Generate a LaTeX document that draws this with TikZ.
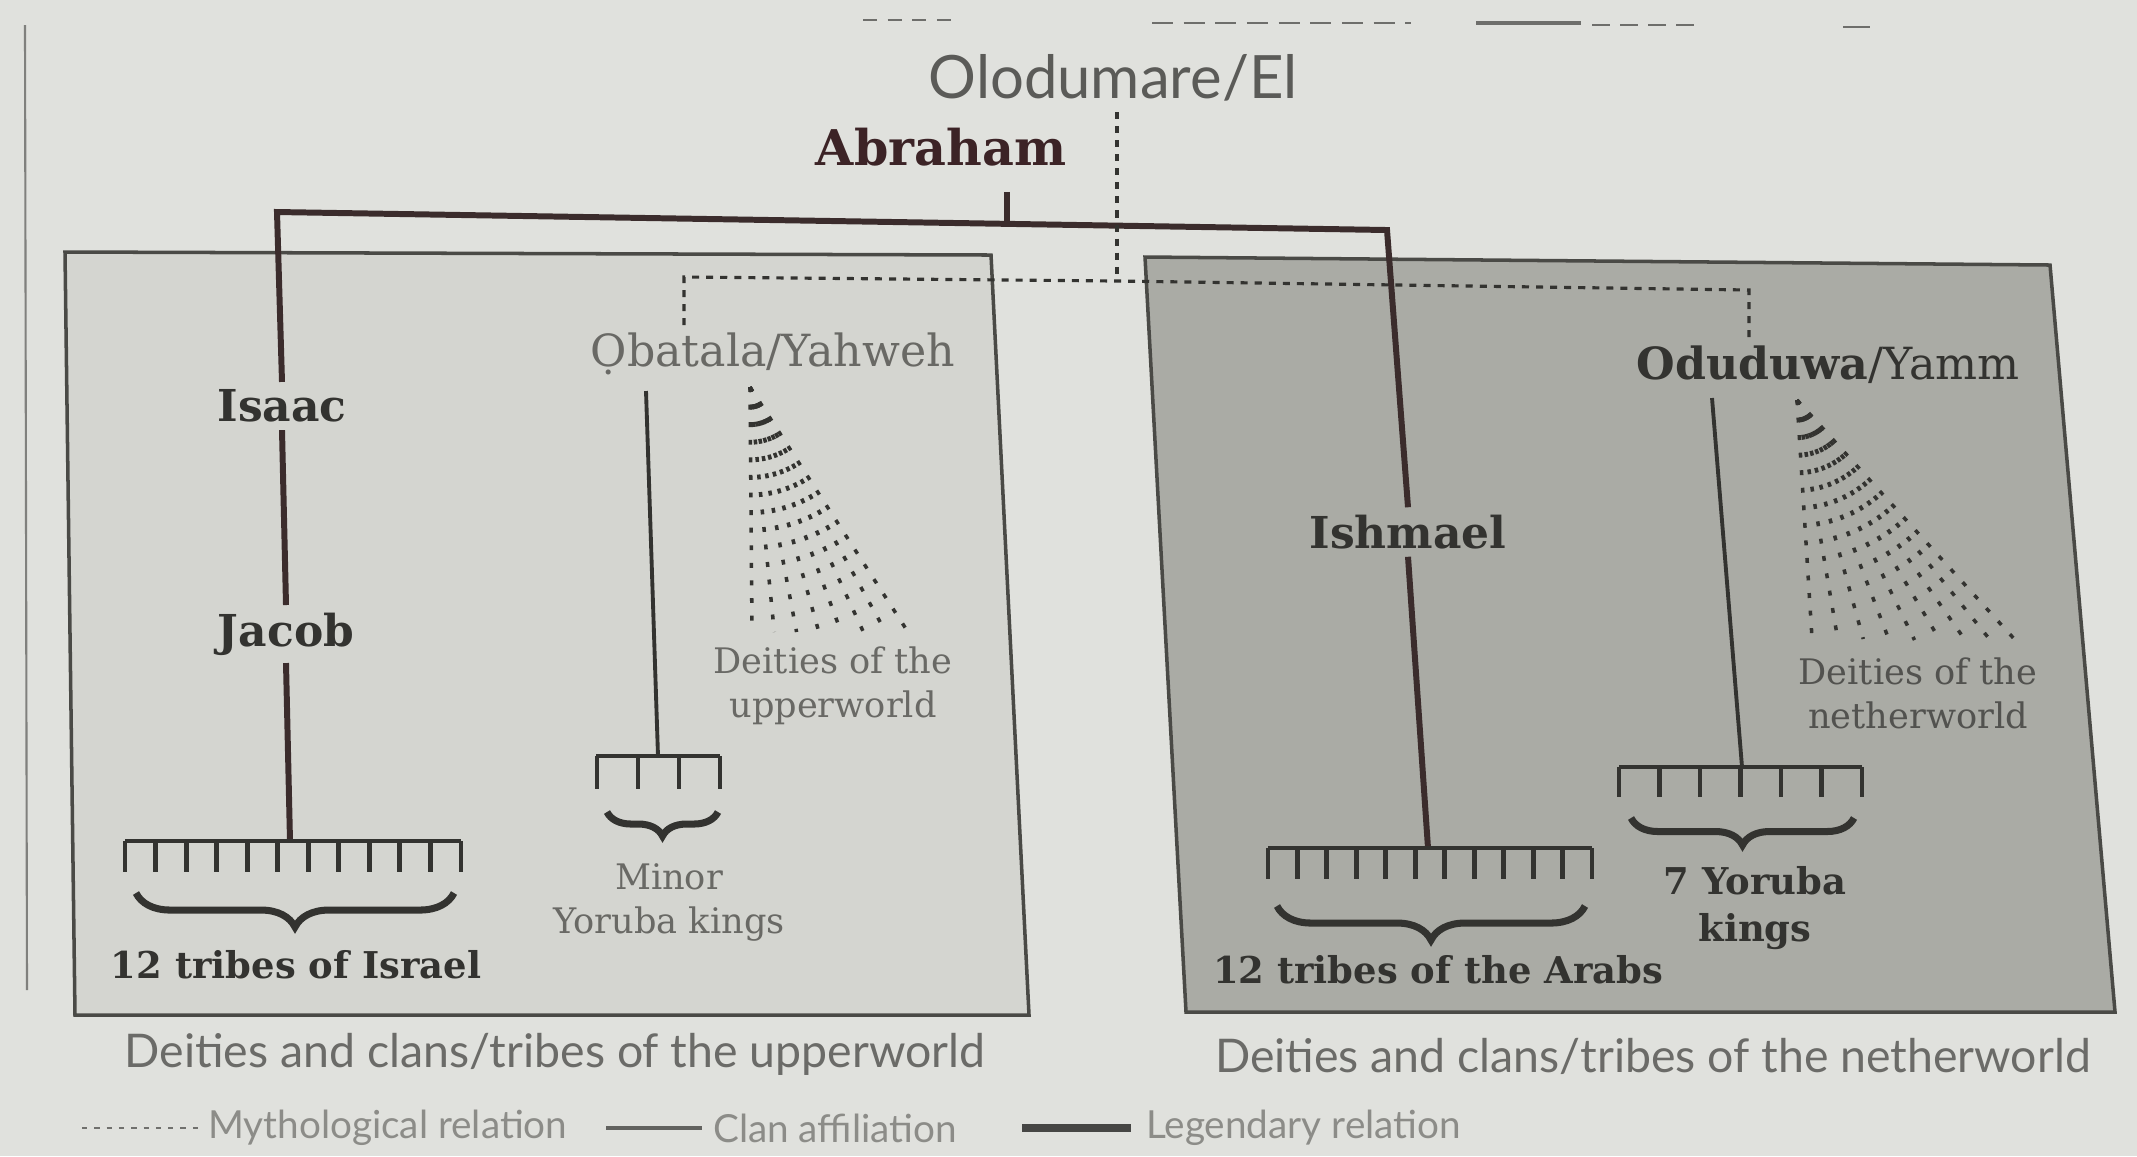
\documentclass[tikz,border=0pt]{standalone}
\usepackage{fontspec}
\setmainfont{DejaVu Serif}
\newfontfamily\lsans{Lato}
\usetikzlibrary{decorations.pathreplacing}
\definecolor{pagebg}{HTML}{E0E1DD}
\definecolor{leftfill}{HTML}{D4D5D0}
\definecolor{rightfill}{HTML}{AAABA5}
\definecolor{boxline}{HTML}{4A4A46}
\definecolor{legline}{HTML}{3B2C2C}
\definecolor{ink}{HTML}{333330}
\definecolor{greyink}{HTML}{696965}
\definecolor{abrink}{HTML}{3C2326}
\definecolor{oloink}{HTML}{5B5B58}
\definecolor{capink}{HTML}{6B6B68}
\definecolor{keyink}{HTML}{8C8C88}
\begin{document}
\begin{tikzpicture}[x=0.01cm,y=-0.01cm,
  boxst/.style={draw=boxline,line width=1pt},
  legendary/.style={draw=legline,line width=1.7pt},
  clan/.style={draw=ink,line width=1.1pt},
  myth/.style={draw=ink,line width=0.9pt,dash pattern=on 2pt off 2pt},
  fanline/.style={draw=ink,line width=1pt,dash pattern=on 1.4pt off 3.6pt},
  combst/.style={draw=ink,line width=1.4pt},
  bracest/.style={draw=ink,line width=2pt,decorate},
  boldlab/.style={font=\bfseries\fontsize{10.5}{13.5}\selectfont,text=ink,inner sep=1pt,align=center},
  namelab/.style={font=\bfseries\fontsize{12.5}{15}\selectfont,text=ink,inner sep=2pt},
  greylab/.style={font=\fontsize{10}{12.5}\selectfont,text=greyink,inner sep=1pt,align=center},
  caplab/.style={font=\lsans\fontsize{13.2}{15}\selectfont,text=capink,inner sep=1pt},
  keylab/.style={font=\lsans\fontsize{11}{13}\selectfont,text=keyink,inner sep=1pt,anchor=west}]
\useasboundingbox (0,0) rectangle (2137,1156);
\fill[pagebg] (0,0) rectangle (2137,1156);

% scan frame remnants
\draw[boxline!70,line width=0.6pt] (25,25) -- (27,990);
\draw[boxline!80,line width=0.8pt,dash pattern=on 4pt off 3pt] (863,20) -- (954,20);
\draw[boxline!80,line width=0.8pt,dash pattern=on 6pt off 3pt] (1152,23) -- (1411,23);
\draw[boxline!80,line width=1pt] (1476,23) -- (1581,23);
\draw[boxline!80,line width=0.8pt,dash pattern=on 5pt off 3pt] (1592,25) -- (1701,25);
\draw[boxline!80,line width=0.8pt] (1843,27) -- (1870,27);

% the two realms
\filldraw[boxst,fill=leftfill] (65,252) -- (991,255) -- (1029,1015) -- (75,1015) -- cycle;
\filldraw[boxst,fill=rightfill] (1145,257) -- (2050,265) -- (2115,1012) -- (1186,1012) -- cycle;

% names
\node[font=\lsans\fontsize{17}{20}\selectfont,text=oloink,inner sep=2pt] (olo) at (1113,78) {Olodumare/El};
\node[font=\bfseries\fontsize{14}{17}\selectfont,text=abrink,inner sep=2pt] (abr) at (941,147) {Abraham};
\node[namelab] (isaac) at (282,406) {Isaac};
\node[namelab] (jacob) at (286,634) {Jacob};
\node[namelab] (ishmael) at (1408,532) {Ishmael};
\node[font=\fontsize{12.6}{15}\selectfont,text=greyink,inner sep=2pt] (obatala) at (773,354) {Ọbatala/Yahweh};
\node[font=\fontsize{12.6}{15}\selectfont,text=ink,inner sep=2pt] (odu) at (1828,365) {\textbf{Oduduwa}/Yamm};

% junction coordinates
\coordinate (jL) at (277,212);
\coordinate (jA) at (1007,224);
\coordinate (jR) at (1387,230);
\coordinate (mTop) at (1117,112);
\coordinate (mC) at (1117,281);
\coordinate (mL) at (684,277);
\coordinate (mR) at (1749,290);
\coordinate (obS) at (646,391);
\coordinate (odS) at (1712,398);

% combs
\coordinate (combI) at (290,841);
\coordinate (combM) at (658,756);
\coordinate (combA) at (1428,848);
\coordinate (combY) at (1742,767);

% legendary relations
\draw[legendary] (jA |- abr.south) ++(0,18) -- (jA);
\draw[legendary] (isaac.north) -- (jL) -- (jR) -- (ishmael.north);
\draw[legendary] (isaac.south) -- (jacob.north);
\draw[legendary] (jacob.south) -- (combI);
\draw[legendary] (ishmael.south) -- (combA);

% mythological relations
\draw[myth] (mTop) -- (mC);
\draw[myth] (obatala.north -| mL) -- (mL) -- (mC) -- (mR) -- (odu.north -| mR);

% clan affiliations
\draw[clan] (obS) -- (combM);
\draw[clan] (odS) -- (combY);

% comb: 12 tribes of Israel
\draw[combst] (125,841) -- (461,841);
\foreach \i in {0,...,11} \draw[combst] ({125+\i*336/11},841) -- ++(0,31);
\draw[bracest,decoration={brace,mirror,amplitude=0.34cm}] (136,893) -- (454,893);
% comb: minor Yoruba kings
\draw[combst] (596,756) -- (720,756);
\foreach \i in {0,...,3} \draw[combst] ({597+\i*123/3},756) -- ++(0,33);
\draw[bracest,decoration={brace,mirror,amplitude=0.24cm}] (607,812) -- (718,812);
% comb: 12 tribes of the Arabs
\draw[combst] (1268,848) -- (1592,848);
\foreach \i in {0,...,11} \draw[combst] ({1268+\i*324/11},848) -- ++(0,31);
\draw[bracest,decoration={brace,mirror,amplitude=0.34cm}] (1277,906) -- (1585,906);
% comb: 7 Yoruba kings
\draw[combst] (1619,767) -- (1862,767);
\foreach \i in {0,...,6} \draw[combst] ({1619+\i*243/6},767) -- ++(0,30);
\draw[bracest,decoration={brace,mirror,amplitude=0.27cm}] (1631,818) -- (1854,818);

% fans of deities
\coordinate (fanU) at (750,387);
\foreach \i in {0,...,7} \draw[fanline] (fanU) -- ({752+\i*156/7},632);
\coordinate (fanN) at (1797,400);
\foreach \i in {0,...,8} \draw[fanline] (fanN) -- ({1812+\i*205/8},{638+\i*0.5});

% labels
\node[boldlab] (israel) at (296,965) {12 tribes of Israel};
\node[boldlab] (arabs) at (1438,970) {12 tribes of the Arabs};
\node[boldlab] (yor7) at (1755,908) {7 Yoruba\\kings};
\node[greylab] (minor) at (669,902) {Minor\\Yoruba kings};
\node[greylab] (deiU) at (833,686) {Deities of the\\upperworld};
\node[greylab,text=ink!85] (deiN) at (1918,693) {Deities of the\\netherworld};

% captions
\node[caplab] (capU) at (555,1054) {Deities and clans/tribes of the upperworld};
\node[caplab] (capN) at (1653,1056) {Deities and clans/tribes of the netherworld};

% key
\coordinate (k1a) at (82,1128); \coordinate (k1b) at (198,1128);
\coordinate (k2a) at (606,1128); \coordinate (k2b) at (702,1128);
\coordinate (k3a) at (1022,1128); \coordinate (k3b) at (1131,1128);
\draw[draw=keyink!80!black,line width=0.8pt,dash pattern=on 1.5pt off 2pt] (k1a) -- (k1b);
\node[keylab] (key1) at (204,1128) {Mythological relation};
\draw[draw=keyink!70!black,line width=1pt] (k2a) -- (k2b);
\node[keylab] (key2) at (709,1128) {Clan affiliation};
\draw[draw=keyink!50!black,line width=2.2pt] (k3a) -- (k3b);
\node[keylab] (key3) at (1142,1128) {Legendary relation};
\end{tikzpicture}
\end{document}
